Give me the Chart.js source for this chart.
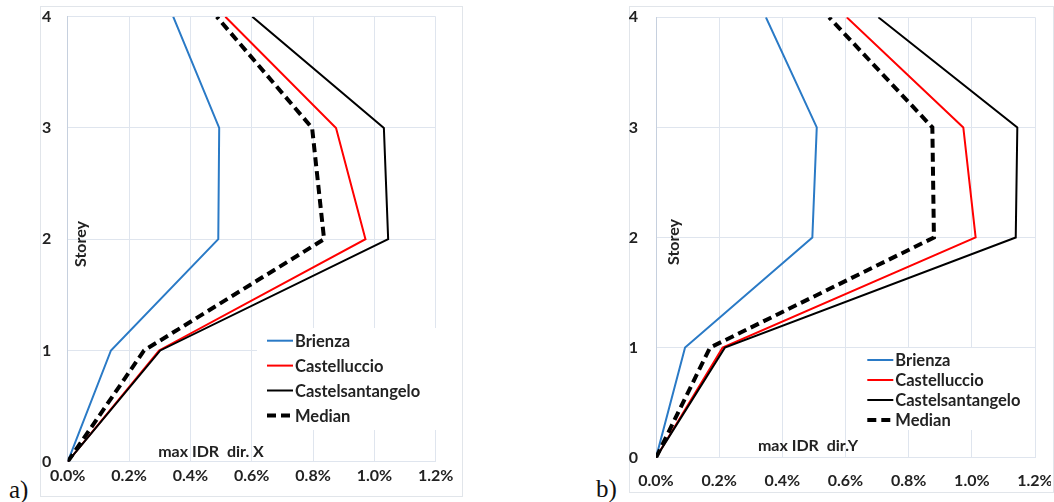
<!DOCTYPE html>
<html>
<head>
<meta charset="utf-8">
<script src="https://cdn.jsdelivr.net/npm/chart.js@4.4.0/dist/chart.umd.min.js"></script>
<style>
  body { margin: 0; background: #fff; width: 1054px; height: 502px; position: relative; overflow: hidden; }
  .frame { position: absolute; border: 1px solid #e1e5ea; box-sizing: border-box; }
  .wrap { position: absolute; }
  .tag { position: absolute; font-family: "Liberation Serif", serif; font-size: 25px; line-height: 25px; color: #111; }
</style>
</head>
<body>
<div class="frame" style="left:40px;top:6px;width:423px;height:491px"></div>
<div class="frame" style="left:629px;top:6px;width:425px;height:487px"></div>
<div class="wrap" style="left:40px;top:6px;width:423px;height:491px"><canvas id="chartA"></canvas></div>
<div class="wrap" style="left:629px;top:6px;width:422px;height:487px"><canvas id="chartB"></canvas></div>
<div class="tag" style="left:9px;top:477px">a)</div>
<div class="tag" style="left:596px;top:476px">b)</div>
<script>
// storey levels (y values)
var storeys = [0, 1, 2, 3, 4];
var names = ['Brienza', 'Castelluccio', 'Castelsantangelo', 'Median'];

// max IDR in %, direction X
var brienzaX = [0, 0.141, 0.491, 0.494, 0.344];
var castelluccioX = [0, 0.298, 0.971, 0.875, 0.514];
var castelsantX = [0, 0.302, 1.045, 1.031, 0.602];
var medianX = [0, 0.249, 0.836, 0.797, 0.486];

// max IDR in %, direction Y
var brienzaY = [0, 0.092, 0.495, 0.509, 0.348];
var castelluccioY = [0, 0.211, 1.012, 0.973, 0.604];
var castelsantY = [0, 0.218, 1.139, 1.144, 0.704];
var medianY = [0, 0.171, 0.880, 0.875, 0.548];

var xTicks = [0, 0.2, 0.4, 0.6, 0.8, 1.0, 1.2];
var yTicks = [0, 1, 2, 3, 4];

var FONT = 'Lato, "Noto Sans", sans-serif';
var TXT = '#222';

function pts(xs) {
  return xs.map(function(v, i) { return { x: v, y: storeys[i] }; });
}

function makeSets(b, c, s, m) {
  var styles = [
    { color: '#2a7ac6', width: 2, dash: [] },
    { color: '#ff0000', width: 2, dash: [] },
    { color: '#000000', width: 2, dash: [] },
    { color: '#000000', width: 4, dash: [9, 5] }
  ];
  return [b, c, s, m].map(function(xs, i) {
    return {
      label: names[i],
      data: pts(xs),
      showLine: true,
      borderColor: styles[i].color,
      backgroundColor: styles[i].color,
      borderWidth: styles[i].width,
      borderDash: styles[i].dash,
      pointRadius: 0,
      tension: 0,
      order: 3 - i
    };
  });
}

// legend box + in-plot texts, drawn in canvas coords
var overlay = {
  id: 'overlay',
  beforeDatasetsDraw: function(chart, args, o) {
    var ctx = chart.ctx;
    ctx.save();
    ctx.fillStyle = '#fff';
    ctx.fillRect(o.box[0], o.box[1], o.box[2], o.box[3]);
    ctx.font = 'bold 16.5px ' + FONT;
    ctx.textBaseline = 'middle';
    chart.data.datasets.forEach(function(ds, i) {
      var y = o.rowY + i * o.rowGap;
      ctx.strokeStyle = ds.borderColor;
      ctx.lineWidth = ds.borderWidth;
      ctx.setLineDash(ds.borderDash);
      ctx.beginPath();
      ctx.moveTo(o.lineX, y);
      ctx.lineTo(o.lineX + 26, y);
      ctx.stroke();
      ctx.setLineDash([]);
      ctx.fillStyle = TXT;
      ctx.textAlign = 'left';
      ctx.fillText(ds.label, o.lineX + 28, y + 1);
    });
    ctx.restore();
  },
  afterDatasetsDraw: function(chart, args, o) {
    var ctx = chart.ctx;
    ctx.save();
    ctx.fillStyle = TXT;
    ctx.font = 'bold 16px ' + FONT;
    ctx.textAlign = 'center';
    ctx.textBaseline = 'middle';
    ctx.fillText(o.xTitle, o.xTitlePos[0], o.xTitlePos[1]);
    ctx.translate(o.yTitlePos[0], o.yTitlePos[1]);
    ctx.rotate(-Math.PI / 2);
    ctx.fillText('Storey', 0, 0);
    ctx.restore();
  }
};

function build(id, sets, cfg) {
  return new Chart(document.getElementById(id), {
    type: 'scatter',
    data: { datasets: sets },
    plugins: [overlay],
    options: {
      responsive: true,
      maintainAspectRatio: false,
      animation: false,
      layout: { padding: { left: 0, top: cfg.top, right: cfg.right, bottom: cfg.bottom } },
      plugins: {
        legend: { display: false },
        tooltip: { enabled: false },
        overlay: cfg.overlay
      },
      scales: {
        x: {
          type: 'linear',
          min: 0,
          max: 1.2,
          afterBuildTicks: function(s) { s.ticks = xTicks.map(function(v) { return { value: v }; }); },
          afterFit: function(s) { s.height = 35; s.paddingLeft = 0; s.paddingRight = 0; },
          ticks: {
            padding: cfg.xPad,
            maxRotation: 0,
            autoSkip: false,
            color: TXT,
            font: { family: FONT, size: 16, weight: 'bold' },
            callback: function(v) { return v.toFixed(1) + '%'; }
          },
          grid: { color: '#dfe5ee', lineWidth: 1, drawTicks: false },
          border: { color: '#dfe5ee', width: 1 }
        },
        y: {
          type: 'linear',
          min: 0,
          max: 4,
          afterBuildTicks: function(s) { s.ticks = yTicks.map(function(v) { return { value: v }; }); },
          afterFit: function(s) { s.width = cfg.yWidth; s.paddingTop = 0; s.paddingBottom = 0; },
          ticks: {
            padding: cfg.yPad,
            color: TXT,
            font: { family: FONT, size: 16, weight: 'bold' }
          },
          grid: { color: '#dfe5ee', lineWidth: 1, drawTicks: false },
          border: { color: '#c6d0de', width: 1 }
        }
      }
    }
  });
}

build('chartA', makeSets(brienzaX, castelluccioX, castelsantX, medianX), {
  top: 10.7, right: 27.3, bottom: 0.3, yWidth: 27.7, yPad: 16.5, xPad: 4.8,
  overlay: {
    box: [217, 322, 179, 102],
    lineX: 227, rowY: 334.7, rowGap: 24.9,
    xTitle: 'max IDR  dir. X', xTitlePos: [171, 446],
    yTitlePos: [41, 238]
  }
});

build('chartB', makeSets(brienzaY, castelluccioY, castelsantY, medianY), {
  top: 11.3, right: 16, bottom: 0.3, yWidth: 27, yPad: 18, xPad: 13.8,
  overlay: {
    box: [234, 342, 172, 82],
    lineX: 238.3, rowY: 354, rowGap: 20,
    xTitle: 'max IDR  dir.Y', xTitlePos: [179, 440],
    yTitlePos: [45, 236]
  }
});
</script>
</body>
</html>
